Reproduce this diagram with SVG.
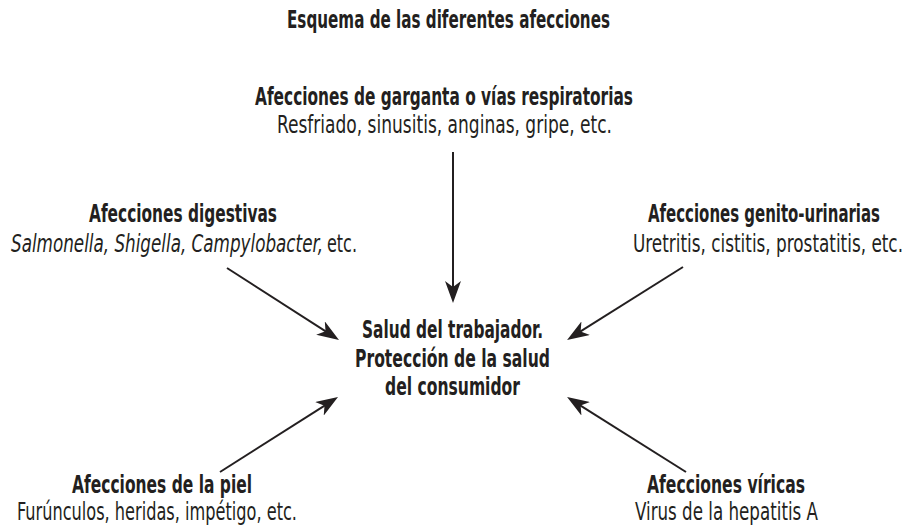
<svg xmlns="http://www.w3.org/2000/svg" width="908" height="526" viewBox="0 0 908 526">
<style>
text{font-family:"Liberation Sans Narrow","DejaVu Sans Condensed","Liberation Sans",sans-serif;font-size:24px;fill:#231f20}
.b{font-weight:bold}
.i{font-style:italic}
.c{stroke:#231f20;stroke-width:2;fill:none}
</style>
<defs>
<marker id="ah" viewBox="0 0 22 16" refX="15" refY="8" markerWidth="22" markerHeight="16" markerUnits="userSpaceOnUse" orient="auto">
<path d="M0,0 L22,8 L0,16 L6,8 z" fill="#231f20"/>
</marker>
</defs>
<rect width="908" height="526" fill="#fff"/>
<text class="b" x="287" y="28" textLength="323" lengthAdjust="spacingAndGlyphs">Esquema de las diferentes afecciones</text>
<g id="connectors">
<line class="c" x1="453" y1="152" x2="453" y2="296" marker-end="url(#ah)"/>
<line class="c" x1="227" y1="268" x2="333.1" y2="336.2" marker-end="url(#ah)"/>
<line class="c" x1="683" y1="267" x2="573" y2="336.2" marker-end="url(#ah)"/>
<line class="c" x1="220" y1="472" x2="332.1" y2="400.8" marker-end="url(#ah)"/>
<line class="c" x1="686" y1="472" x2="573" y2="400.8" marker-end="url(#ah)"/>
</g>
<g id="garganta">
<text class="b" x="255" y="105" textLength="378" lengthAdjust="spacingAndGlyphs">Afecciones de garganta o vías respiratorias</text>
<text x="277" y="133" textLength="335" lengthAdjust="spacingAndGlyphs">Resfriado, sinusitis, anginas, gripe, etc.</text>
</g>
<g id="digestivas">
<text class="b" x="89" y="222" textLength="188" lengthAdjust="spacingAndGlyphs">Afecciones digestivas</text>
<text class="i" x="11" y="252" textLength="312" lengthAdjust="spacingAndGlyphs">Salmonella, Shigella, Campylobacter,</text>
<text x="327" y="252" textLength="30" lengthAdjust="spacingAndGlyphs">etc.</text>
</g>
<g id="genito">
<text class="b" x="648" y="222" textLength="232" lengthAdjust="spacingAndGlyphs">Afecciones genito-urinarias</text>
<text x="633" y="252" textLength="270" lengthAdjust="spacingAndGlyphs">Uretritis, cistitis, prostatitis, etc.</text>
</g>
<g id="centro">
<text class="b" x="362" y="338" textLength="181" lengthAdjust="spacingAndGlyphs">Salud del trabajador.</text>
<text class="b" x="355" y="367" textLength="195" lengthAdjust="spacingAndGlyphs">Protección de la salud</text>
<text class="b" x="385" y="395" textLength="135" lengthAdjust="spacingAndGlyphs">del consumidor</text>
</g>
<g id="piel">
<text class="b" x="72" y="493" textLength="180" lengthAdjust="spacingAndGlyphs">Afecciones de la piel</text>
<text x="17" y="520" textLength="280" lengthAdjust="spacingAndGlyphs">Furúnculos, heridas, impétigo, etc.</text>
</g>
<g id="viricas">
<text class="b" x="647" y="493" textLength="158" lengthAdjust="spacingAndGlyphs">Afecciones víricas</text>
<text x="635" y="520" textLength="183" lengthAdjust="spacingAndGlyphs">Virus de la hepatitis A</text>
</g>
</svg>
